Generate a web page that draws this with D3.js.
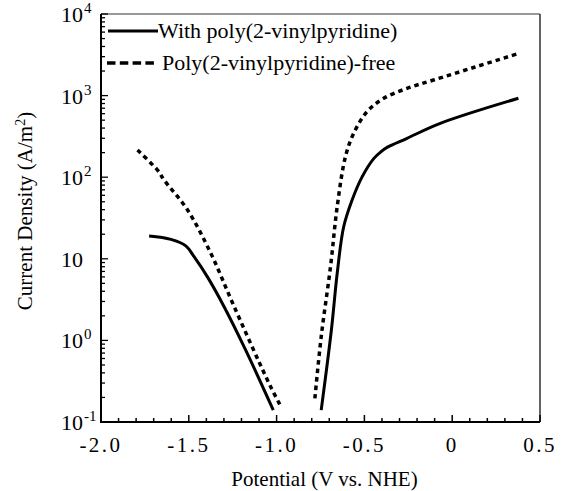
<!DOCTYPE html>
<html>
<head>
<meta charset="utf-8">
<script src="https://cdn.jsdelivr.net/npm/d3@7"></script>
<style>
  html, body { margin: 0; padding: 0; background: #fff; }
  svg { display: block; }
  .serif { font-family: "Liberation Serif"; }
</style>
</head>
<body>
<svg id="chart" width="569" height="491"></svg>
<script>
// ---- Data ----
const seriesNames = ["With poly(2-vinylpyridine)", "Poly(2-vinylpyridine)-free"];

// With poly(2-vinylpyridine): cathodic branch
const withCathV = [-1.726, -1.602, -1.517, -1.470, -1.394, -1.299, -1.176, -1.019];
const withCathI = [19.0, 17.3, 14.4, 10.6, 6.0, 2.59, 0.76, 0.140];
// With poly(2-vinylpyridine): anodic branch
const withAnodV = [-0.746, -0.688, -0.655, -0.618, -0.570, -0.513, -0.447, -0.405, -0.371, -0.257, -0.068, 0.377];
const withAnodI = [0.140, 1.34, 6.6, 24.7, 52.6, 101, 169, 206, 232, 300, 457, 927];

// Poly(2-vinylpyridine)-free: cathodic branch
const freeCathV = [-1.792, -1.678, -1.640, -1.507, -1.375, -1.250, -1.101, -1.030, -0.977];
const freeCathI = [215, 122, 92, 39.6, 11.7, 2.85, 0.55, 0.26, 0.157];
// Poly(2-vinylpyridine)-free: anodic branch
const freeAnodV = [-0.782, -0.746, -0.693, -0.655, -0.608, -0.561, -0.485, -0.390, -0.257, -0.106, 0.131, 0.368];
const freeAnodI = [0.195, 1.11, 8.0, 43.5, 178, 345, 635, 927, 1227, 1552, 2240, 3236];

// Tick labels
const xTickValues = [-2.0, -1.5, -1.0, -0.5, 0, 0.5];
const xTickLabels = ["-2.0", "-1.5", "-1.0", "-0.5", "0", "0.5"];
const yTickValues = [1e-1, 1e0, 1e1, 1e2, 1e3, 1e4];
const yTickBase = ["10", "10", "10", "10", "10", "10"];
const yTickExp = ["-1", "0", "", "2", "3", "4"];

const xTitle = "Potential (V vs. NHE)";
const yTitle = "Current Density (A/m";

// ---- Layout ----
const svg = d3.select("#chart");
const L = 101, R = 540, T = 14, B = 422;
const x = d3.scaleLinear().domain([-2, 0.5]).range([L, R]);
const y = d3.scaleLog().domain([0.1, 1e4]).range([B, T]);

// Frame (top and right thinner)
svg.append("line").attr("x1", L).attr("x2", R).attr("y1", T).attr("y2", T)
  .attr("stroke", "#333").attr("stroke-width", 1.2);
svg.append("line").attr("x1", R).attr("x2", R).attr("y1", T).attr("y2", B)
  .attr("stroke", "#222").attr("stroke-width", 1.4);

// X axis
const xMinor = d3.range(-2.0, 0.5001, 0.1).map(v => +v.toFixed(2));
const xAxis = svg.append("g").attr("transform", `translate(0,${B})`);
xAxis.selectAll("line.minor").data(xMinor).join("line")
  .attr("x1", d => x(d)).attr("x2", d => x(d))
  .attr("y1", 0).attr("y2", d => (Math.abs(d * 2 - Math.round(d * 2)) < 1e-6 ? -7 : -4))
  .attr("stroke", "#000").attr("stroke-width", 1.5);
xAxis.append("line").attr("x1", L - 1).attr("x2", R).attr("y1", 0).attr("y2", 0)
  .attr("stroke", "#000").attr("stroke-width", 2);
xAxis.selectAll("text.tl").data(xTickValues).join("text")
  .attr("class", "tl serif")
  .attr("x", d => x(d)).attr("y", 30)
  .attr("text-anchor", "middle")
  .attr("font-size", 21)
  .attr("letter-spacing", 2.5)
  .text((d, i) => xTickLabels[i]);

// Y axis
const yMinor = [];
for (let e = -1; e < 4; e++) for (let m = 1; m < 10; m++) yMinor.push(m * Math.pow(10, e));
yMinor.push(1e4);
const yAxis = svg.append("g").attr("transform", `translate(${L},0)`);
yAxis.selectAll("line.minor").data(yMinor).join("line")
  .attr("y1", d => y(d)).attr("y2", d => y(d))
  .attr("x1", 0).attr("x2", d => (Math.abs(Math.log10(d) - Math.round(Math.log10(d))) < 1e-9 ? 7 : 4))
  .attr("stroke", "#000").attr("stroke-width", 1.3);
yAxis.append("line").attr("x1", 0).attr("x2", 0).attr("y1", T).attr("y2", B + 1)
  .attr("stroke", "#000").attr("stroke-width", 2);
const yl = yAxis.selectAll("text.yl").data(yTickValues).join("text")
  .attr("class", "yl serif")
  .attr("x", -40).attr("y", d => y(d) + 8)
  .attr("font-size", 22);
yl.append("tspan").text((d, i) => yTickBase[i]);
yl.append("tspan").attr("dy", -9).attr("font-size", 15).attr("dx", 1)
  .text((d, i) => yTickExp[i]);

// Titles
svg.append("text").attr("class", "serif").attr("x", (L + R) / 2 + 4).attr("y", 486)
  .attr("text-anchor", "middle").attr("font-size", 21).text(xTitle);
const yt = svg.append("text").attr("class", "serif")
  .attr("transform", `translate(32,211) rotate(-90)`)
  .attr("text-anchor", "middle").attr("font-size", 21);
yt.append("tspan").text(yTitle);
yt.append("tspan").attr("font-size", 14).attr("dy", -7).text("2");
yt.append("tspan").attr("dy", 7).text(")");

// Curves
const line = d3.line().x(d => x(d[0])).y(d => y(d[1])).curve(d3.curveCatmullRom.alpha(0.5));
const zip = (a, b) => a.map((v, i) => [v, b[i]]);
const plot = svg.append("g");
[[withCathV, withCathI], [withAnodV, withAnodI]].forEach(([v, c]) => {
  plot.append("path").attr("d", line(zip(v, c)))
    .attr("fill", "none").attr("stroke", "#000").attr("stroke-width", 3)
    .attr("stroke-linejoin", "round");
});
[[freeCathV, freeCathI], [freeAnodV, freeAnodI]].forEach(([v, c]) => {
  plot.append("path").attr("d", line(zip(v, c)))
    .attr("fill", "none").attr("stroke", "#000").attr("stroke-width", 3.5)
    .attr("stroke-dasharray", "4.5,4");
});

// Legend
const lg = svg.append("g");
lg.append("line").attr("x1", 108).attr("x2", 158).attr("y1", 31).attr("y2", 31)
  .attr("stroke", "#000").attr("stroke-width", 3);
lg.append("text").attr("class", "serif").attr("x", 158).attr("y", 38).attr("font-size", 22).text(seriesNames[0]);
lg.append("line").attr("x1", 107).attr("x2", 154).attr("y1", 63).attr("y2", 63)
  .attr("stroke", "#000").attr("stroke-width", 3.5).attr("stroke-dasharray", "8.5,4.3");
lg.append("text").attr("class", "serif").attr("x", 162).attr("y", 70).attr("font-size", 22).text(seriesNames[1]);
</script>
</body>
</html>
